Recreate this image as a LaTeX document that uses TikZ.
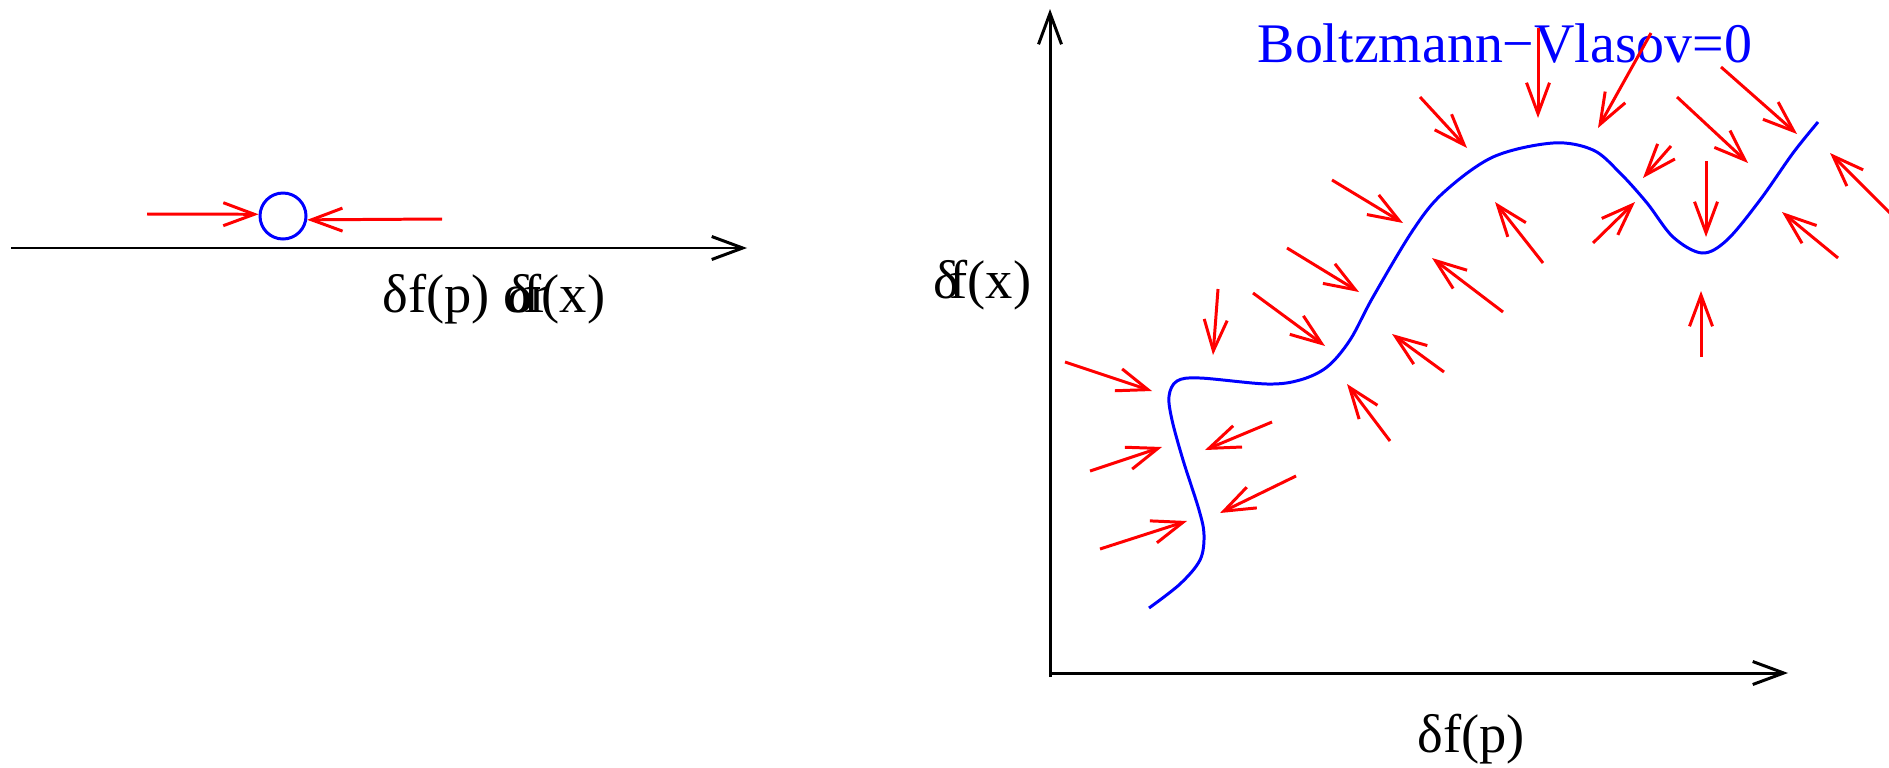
\documentclass[tikz,border=0pt]{standalone}
\usepackage{fontspec}
\setmainfont{Liberation Serif}
\usetikzlibrary{arrows.meta}
\usetikzlibrary{positioning}

\begin{document}
\begin{tikzpicture}[
  axis/.style={line width=0.85pt, -{Straight Barb[length=3.1mm,width=2.3mm]}},
  flow/.style={red, line width=0.85pt, -{Straight Barb[length=3.1mm,width=2.3mm]}},
  curve/.style={blue, line width=0.85pt},
  lab/.style={anchor=base west, inner sep=0pt, font=\fontsize{15.5pt}{18pt}\selectfont}
]
  \useasboundingbox (0,0) rectangle (18.89,7.67);

  % 左：一次元
  \draw[axis] (0.11,5.19) -- (7.47,5.19);
  \node[circle, draw=blue, line width=0.85pt, inner sep=0pt, minimum size=0.46cm] (dot) at (2.83,5.51) {};
  \draw[flow] (1.47,5.53) -- (dot.176);
  \draw[flow] (4.42,5.48) -- (dot.-9);
  \node[lab] (lp) at (3.82,4.55) {δf(p) or};
  \node[lab] (lx) at (5.07,4.55) {δ\kern-0.18em f(x)};

  % 右：軸
  \draw[axis] (10.50,0.90) -- (10.50,7.58);
  \draw[axis] (10.50,0.94) -- (17.88,0.94);
  \node[lab] (ylab) at (9.33,4.69) {δ\kern-0.18em f(x)};
  \node[lab] (xlab) at (14.17,0.15) {δf(p)};
  \node[lab, blue, font=\fontsize{15.9pt}{18pt}\selectfont] (title) at (12.57,7.05) {Boltzmann−Vlasov=0};

  % 曲線
  \draw[curve] plot[smooth, tension=0.55] coordinates {
    (11.49,1.59) (11.80,1.83) (12.00,2.07) (12.04,2.32) (11.99,2.57)
    (11.83,3.07) (11.72,3.47) (11.69,3.71) (11.77,3.86) (12.00,3.89)
    (12.67,3.83) (13.00,3.87) (13.27,4.00) (13.50,4.27) (13.73,4.70)
    (14.13,5.37) (14.43,5.74) (14.93,6.10) (15.53,6.24) (15.93,6.17)
    (16.20,5.94) (16.47,5.64) (16.73,5.30) (17.02,5.14) (17.27,5.27)
    (17.60,5.67) (17.93,6.14) (18.18,6.45)};

  % 矢印
  \draw[flow] (14.20,6.70) -- (14.67,6.19);
  \draw[flow] (13.32,5.87) -- (14.03,5.44);
  \draw[flow] (12.87,5.19) -- (13.59,4.75);
  \draw[flow] (15.38,7.39) -- (15.38,6.49);
  \draw[flow] (16.51,7.34) -- (15.98,6.39);
  \draw[flow] (16.77,6.70) -- (17.48,6.04);
  \draw[flow] (17.21,7.00) -- (17.97,6.33);
  \draw[flow] (16.71,6.21) -- (16.43,5.89);
  \draw[flow] (17.06,6.06) -- (17.06,5.30);
  \draw[flow] (15.93,5.24) -- (16.35,5.65);
  \draw[flow] (15.43,5.04) -- (14.95,5.65);
  \draw[flow] (18.38,5.09) -- (17.82,5.55);
  \draw[flow] (19.00,5.44) -- (18.30,6.14);
  \draw[flow] (15.03,4.55) -- (14.32,5.09);
  \draw[flow] (14.44,3.95) -- (13.92,4.33);
  \draw[flow] (13.90,3.26) -- (13.47,3.83);
  \draw[flow] (12.72,3.45) -- (12.05,3.17);
  \draw[flow] (12.96,2.91) -- (12.20,2.54);
  \draw[flow] (10.90,2.96) -- (11.62,3.20);
  \draw[flow] (11.00,2.18) -- (11.87,2.46);
  \draw[flow] (10.65,4.05) -- (11.52,3.76);
  \draw[flow] (12.18,4.78) -- (12.13,4.12);
  \draw[flow] (12.53,4.74) -- (13.25,4.21);
  \draw[flow] (17.01,4.10) -- (17.01,4.76);
\end{tikzpicture}
\end{document}
